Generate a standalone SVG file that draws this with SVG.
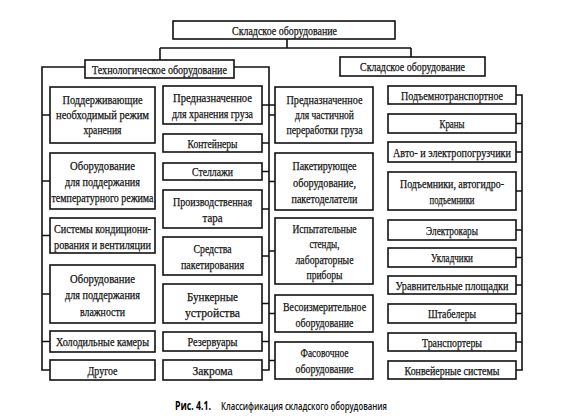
<svg xmlns="http://www.w3.org/2000/svg" width="580" height="420" viewBox="0 0 580 420">
<style>
.box{fill:#fff;stroke:#111;stroke-width:1.6}
.c{fill:none;stroke:#111;stroke-width:1.6}
.t{font-family:'Liberation Serif','DejaVu Serif',serif;font-size:13px;text-anchor:middle;fill:#111;stroke:#111;stroke-width:0.25}
.cap{font-family:'Open Sans','Liberation Sans',sans-serif;font-size:11.5px;font-weight:600;fill:#111}
.capb{font-family:'Open Sans','Liberation Sans',sans-serif;font-size:11.5px;font-weight:700;fill:#000}
</style>
<rect width="580" height="420" fill="#fff"/>
<g id="connectors">
<path class="c" d="M287,39 V48 M160,48 H411 M160,48 V60 M411,48 V57"/>
<path class="c" d="M85,67 H42 V370 H50 M42,115 H50 M42,181 H50 M42,235.5 H50 M42,294 H50 M42,341.5 H50"/>
<path class="c" d="M234,67 H269 V370 H262 M262,105 H275 M262,143 H269 M262,171.5 H269 M262,209 H269 M262,256 H269 M262,303.5 H269 M262,341.5 H269 M269,115 H275 M269,181.5 H275 M269,251 H275 M269,313.5 H275 M269,360.5 H275"/>
<path class="c" d="M516,95 H522 V370 H516 M516,123.5 H522 M516,152 H522 M516,191 H522 M516,230 H522 M516,257.5 H522 M516,285 H522 M516,313.5 H522 M516,342 H522"/>
</g>
<g id="root"><rect class="box" x="173" y="21" width="222" height="18"/><text class="t" x="284.5" y="34.5" textLength="105" lengthAdjust="spacingAndGlyphs">Складское оборудование</text></g>
<g id="tech"><rect class="box" x="85" y="60" width="149" height="18"/><text class="t" x="159.5" y="73.5" textLength="135" lengthAdjust="spacingAndGlyphs">Технологическое оборудование</text></g>
<g id="sklad"><rect class="box" x="340" y="57" width="145" height="19"/><text class="t" x="412.5" y="71" textLength="105" lengthAdjust="spacingAndGlyphs">Складское оборудование</text></g>

<g id="c1n1"><rect class="box" x="50" y="87" width="105" height="56"/>
<text class="t" x="102.5" y="103.5" textLength="80" lengthAdjust="spacingAndGlyphs">Поддерживающие</text>
<text class="t" x="102.5" y="118.5" textLength="93" lengthAdjust="spacingAndGlyphs">необходимый режим</text>
<text class="t" x="102.5" y="133.5" textLength="38" lengthAdjust="spacingAndGlyphs">хранения</text></g>
<g id="c1n2"><rect class="box" x="50" y="153" width="105" height="56"/>
<text class="t" x="102.5" y="169.5" textLength="65" lengthAdjust="spacingAndGlyphs">Оборудование</text>
<text class="t" x="102.5" y="185.5" textLength="75" lengthAdjust="spacingAndGlyphs">для поддержания</text>
<text class="t" x="102.5" y="201.5" textLength="102" lengthAdjust="spacingAndGlyphs">температурного режима</text></g>
<g id="c1n3"><rect class="box" x="50" y="218" width="105" height="35"/>
<text class="t" x="102.5" y="232.5" textLength="97" lengthAdjust="spacingAndGlyphs">Системы кондициони-</text>
<text class="t" x="102.5" y="249" textLength="97" lengthAdjust="spacingAndGlyphs">рования и вентиляции</text></g>
<g id="c1n4"><rect class="box" x="50" y="265" width="105" height="58"/>
<text class="t" x="102.5" y="282.5" textLength="65" lengthAdjust="spacingAndGlyphs">Оборудование</text>
<text class="t" x="102.5" y="299" textLength="75" lengthAdjust="spacingAndGlyphs">для поддержания</text>
<text class="t" x="102.5" y="315.5" textLength="45" lengthAdjust="spacingAndGlyphs">влажности</text></g>
<g id="c1n5"><rect class="box" x="50" y="331" width="105" height="21"/>
<text class="t" x="102.5" y="346" textLength="93" lengthAdjust="spacingAndGlyphs">Холодильные камеры</text></g>
<g id="c1n6"><rect class="box" x="50" y="360" width="105" height="20"/>
<text class="t" x="102.5" y="374.5" textLength="30" lengthAdjust="spacingAndGlyphs">Другое</text></g>

<g id="c2n1"><rect class="box" x="163" y="86" width="99" height="38"/>
<text class="t" x="212.5" y="102" textLength="79" lengthAdjust="spacingAndGlyphs">Предназначенное</text>
<text class="t" x="212.5" y="117.5" textLength="81" lengthAdjust="spacingAndGlyphs">для хранения груза</text></g>
<g id="c2n2"><rect class="box" x="163" y="134" width="99" height="18"/>
<text class="t" x="212.5" y="147.5" textLength="50" lengthAdjust="spacingAndGlyphs">Контейнеры</text></g>
<g id="c2n3"><rect class="box" x="163" y="163" width="99" height="17"/>
<text class="t" x="212.5" y="176" textLength="41" lengthAdjust="spacingAndGlyphs">Стеллажи</text></g>
<g id="c2n4"><rect class="box" x="163" y="190" width="99" height="38"/>
<text class="t" x="212.5" y="205.5" textLength="79" lengthAdjust="spacingAndGlyphs">Производственная</text>
<text class="t" x="212.5" y="221.5" textLength="20" lengthAdjust="spacingAndGlyphs">тара</text></g>
<g id="c2n5"><rect class="box" x="163" y="237" width="99" height="38"/>
<text class="t" x="212.5" y="252.5" textLength="38" lengthAdjust="spacingAndGlyphs">Средства</text>
<text class="t" x="212.5" y="268.5" textLength="63" lengthAdjust="spacingAndGlyphs">пакетирования</text></g>
<g id="c2n6"><rect class="box" x="163" y="284" width="99" height="39"/>
<text class="t" x="212.5" y="300.5" textLength="51" lengthAdjust="spacingAndGlyphs">Бункерные</text>
<text class="t" x="212.5" y="316.5" textLength="55" lengthAdjust="spacingAndGlyphs">устройства</text></g>
<g id="c2n7"><rect class="box" x="163" y="332" width="99" height="19"/>
<text class="t" x="212.5" y="346" textLength="50" lengthAdjust="spacingAndGlyphs">Резервуары</text></g>
<g id="c2n8"><rect class="box" x="163" y="360" width="99" height="20"/>
<text class="t" x="212.5" y="374.5" textLength="40" lengthAdjust="spacingAndGlyphs">Закрома</text></g>

<g id="c3n1"><rect class="box" x="275" y="87" width="98" height="56"/>
<text class="t" x="324.5" y="103.5" textLength="76" lengthAdjust="spacingAndGlyphs">Предназначенное</text>
<text class="t" x="324.5" y="118.5" textLength="59" lengthAdjust="spacingAndGlyphs">для частичной</text>
<text class="t" x="324.5" y="133.5" textLength="76" lengthAdjust="spacingAndGlyphs">переработки груза</text></g>
<g id="c3n2"><rect class="box" x="275" y="153" width="98" height="57"/>
<text class="t" x="324.5" y="169.5" textLength="64" lengthAdjust="spacingAndGlyphs">Пакетирующее</text>
<text class="t" x="324.5" y="186.5" textLength="63" lengthAdjust="spacingAndGlyphs">оборудование,</text>
<text class="t" x="324.5" y="202.5" textLength="66" lengthAdjust="spacingAndGlyphs">пакетоделатели</text></g>
<g id="c3n3"><rect class="box" x="275" y="218" width="98" height="66"/>
<text class="t" x="324.5" y="232.5" textLength="64" lengthAdjust="spacingAndGlyphs">Испытательные</text>
<text class="t" x="324.5" y="248" textLength="30" lengthAdjust="spacingAndGlyphs">стенды,</text>
<text class="t" x="324.5" y="263.5" textLength="58" lengthAdjust="spacingAndGlyphs">лабораторные</text>
<text class="t" x="324.5" y="279" textLength="36" lengthAdjust="spacingAndGlyphs">приборы</text></g>
<g id="c3n4"><rect class="box" x="275" y="295" width="98" height="37"/>
<text class="t" x="324.5" y="310.5" textLength="83" lengthAdjust="spacingAndGlyphs">Весоизмерительное</text>
<text class="t" x="324.5" y="326.5" textLength="58" lengthAdjust="spacingAndGlyphs">оборудование</text></g>
<g id="c3n5"><rect class="box" x="275" y="342" width="98" height="37"/>
<text class="t" x="324.5" y="357" textLength="48" lengthAdjust="spacingAndGlyphs">Фасовочное</text>
<text class="t" x="324.5" y="373" textLength="58" lengthAdjust="spacingAndGlyphs">оборудование</text></g>

<g id="c4n1"><rect class="box" x="388" y="86" width="128" height="18"/>
<text class="t" x="452" y="99.5" textLength="102" lengthAdjust="spacingAndGlyphs">Подъемнотранспортное</text></g>
<g id="c4n2"><rect class="box" x="388" y="114" width="128" height="19"/>
<text class="t" x="452" y="128" textLength="25" lengthAdjust="spacingAndGlyphs">Краны</text></g>
<g id="c4n3"><rect class="box" x="388" y="142" width="128" height="20"/>
<text class="t" x="452" y="156.5" textLength="118" lengthAdjust="spacingAndGlyphs">Авто- и электропогрузчики</text></g>
<g id="c4n4"><rect class="box" x="388" y="172" width="128" height="38"/>
<text class="t" x="452" y="187.5" textLength="104" lengthAdjust="spacingAndGlyphs">Подъемники, автогидро-</text>
<text class="t" x="452" y="203.5" textLength="45" lengthAdjust="spacingAndGlyphs">подъемники</text></g>
<g id="c4n5"><rect class="box" x="388" y="220" width="128" height="20"/>
<text class="t" x="452" y="234.5" textLength="52" lengthAdjust="spacingAndGlyphs">Электрокары</text></g>
<g id="c4n6"><rect class="box" x="388" y="248" width="128" height="19"/>
<text class="t" x="452" y="262" textLength="42" lengthAdjust="spacingAndGlyphs">Укладчики</text></g>
<g id="c4n7"><rect class="box" x="388" y="276" width="128" height="18"/>
<text class="t" x="452" y="289.5" textLength="113" lengthAdjust="spacingAndGlyphs">Уравнительные площадки</text></g>
<g id="c4n8"><rect class="box" x="388" y="304" width="128" height="19"/>
<text class="t" x="452" y="318" textLength="48" lengthAdjust="spacingAndGlyphs">Штабелеры</text></g>
<g id="c4n9"><rect class="box" x="388" y="333" width="128" height="18"/>
<text class="t" x="452" y="346.5" textLength="60" lengthAdjust="spacingAndGlyphs">Транспортеры</text></g>
<g id="c4n10"><rect class="box" x="388" y="361" width="128" height="18"/>
<text class="t" x="452" y="374.5" textLength="95" lengthAdjust="spacingAndGlyphs">Конвейерные системы</text></g>

<text class="capb" x="175" y="410" textLength="36" lengthAdjust="spacingAndGlyphs">Рис. 4.1.</text>
<text class="cap" x="221" y="410" textLength="166" lengthAdjust="spacingAndGlyphs">Классификация складского оборудования</text>
</svg>
